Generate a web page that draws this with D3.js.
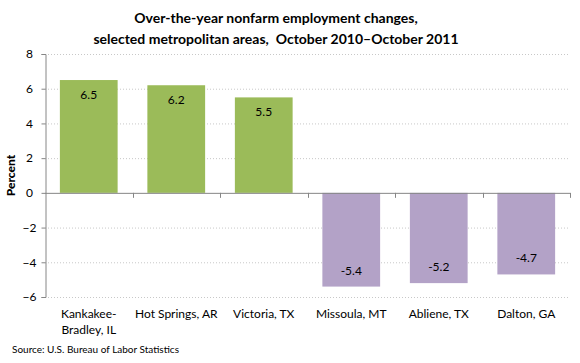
<!DOCTYPE html>
<html>
<head>
<meta charset="utf-8">
<script src="https://cdn.jsdelivr.net/npm/d3@7"></script>
<style>
  body { margin: 0; background: #fff; }
  text { font-family: Lato, "Open Sans", sans-serif; }
</style>
</head>
<body>
<div id="chart"></div>
<script>
const categories = [["Kankakee-", "Bradley, IL"], ["Hot Springs, AR"], ["Victoria, TX"], ["Missoula, MT"], ["Abliene, TX"], ["Dalton, GA"]];
const values = [6.5, 6.2, 5.5, -5.4, -5.2, -4.7];
const yTicks = [-6, -4, -2, 0, 2, 4, 6, 8];

const width = 580, height = 363;
const margin = { top: 54, right: 10, bottom: 66, left: 45 };

const svg = d3.select("#chart").append("svg")
  .attr("width", width)
  .attr("height", height);

const x = d3.scaleBand()
  .domain(d3.range(categories.length))
  .range([margin.left, width - margin.right])
  .paddingInner(0.34)
  .paddingOuter(0.17);

const y = d3.scaleLinear()
  .domain([-6, 8])
  .range([height - margin.bottom, margin.top]);

// dotted gridlines
svg.append("g")
  .selectAll("line")
  .data(yTicks.filter(d => d !== 0))
  .join("line")
  .attr("x1", margin.left)
  .attr("x2", width - margin.right)
  .attr("y1", d => y(d) + 0.5)
  .attr("y2", d => y(d) + 0.5)
  .attr("stroke", "#c8c8c8")
  .attr("stroke-dasharray", "1,2");

// y axis
const yAxis = svg.append("g")
  .attr("transform", `translate(${margin.left + 0.5},0)`)
  .call(d3.axisLeft(y).tickValues(yTicks).tickSize(4).tickFormat(d3.format("d")));
yAxis.select(".domain").attr("stroke", "#868686");
yAxis.selectAll(".tick line").attr("stroke", "#868686");
yAxis.selectAll(".tick text")
  .attr("x", -16)
  .attr("text-anchor", "middle")
  .attr("font-size", 12)
  .attr("fill", "#000")
  .style("font-family", "Lato, sans-serif");

// bars
svg.append("g")
  .selectAll("rect")
  .data(values)
  .join("rect")
  .attr("x", (d, i) => x(i))
  .attr("width", x.bandwidth())
  .attr("y", d => y(Math.max(0, d)))
  .attr("height", d => Math.abs(y(d) - y(0)))
  .attr("fill", d => d >= 0 ? "#9bbb59" : "#b3a2c7");

// value labels
svg.append("g")
  .selectAll("text")
  .data(values)
  .join("text")
  .attr("x", (d, i) => x(i) + x.bandwidth() / 2)
  .attr("y", d => d >= 0 ? y(d) + 19 : y(d) - 12)
  .attr("text-anchor", "middle")
  .attr("font-size", 12)
  .text(d => d3.format(".1f")(d).replace("−", "-"));

// zero line with category separators
const step = x.step();
svg.append("line")
  .attr("x1", margin.left)
  .attr("x2", width - margin.right)
  .attr("y1", y(0) + 0.5)
  .attr("y2", y(0) + 0.5)
  .attr("stroke", "#868686");
svg.append("g")
  .selectAll("line")
  .data(d3.range(1, categories.length + 1))
  .join("line")
  .attr("x1", i => Math.round(margin.left + i * step) + 0.5)
  .attr("x2", i => Math.round(margin.left + i * step) + 0.5)
  .attr("y1", y(0))
  .attr("y2", y(0) + 5)
  .attr("stroke", "#868686");

// category labels
const catLabels = svg.append("g")
  .selectAll("text")
  .data(categories)
  .join("text")
  .attr("x", (d, i) => x(i) + x.bandwidth() / 2)
  .attr("y", 318)
  .attr("text-anchor", "middle")
  .attr("font-size", 12);
catLabels.selectAll("tspan")
  .data(d => d)
  .join("tspan")
  .attr("x", function () { return this.parentNode.getAttribute("x"); })
  .attr("dy", (d, i) => i === 0 ? 0 : 16)
  .text(d => d);

// y axis title
svg.append("text")
  .attr("transform", `translate(15,${y(1)}) rotate(-90)`)
  .attr("text-anchor", "middle")
  .attr("font-size", 12)
  .attr("font-weight", 900)
  .text("Percent");

// chart title
svg.append("text")
  .attr("x", 276)
  .attr("y", 23)
  .attr("text-anchor", "middle")
  .attr("font-size", 14)
  .attr("font-weight", "bold")
  .text("Over-the-year nonfarm employment changes,");
svg.append("text")
  .attr("x", 276)
  .attr("y", 44)
  .attr("text-anchor", "middle")
  .attr("font-size", 14)
  .attr("font-weight", "bold")
  .attr("xml:space", "preserve")
  .style("white-space", "pre")
  .text("selected metropolitan areas,  October 2010\u2013October 2011");

// source
svg.append("text")
  .attr("x", 12)
  .attr("y", 353)
  .attr("font-size", 10)
  .text("Source: U.S. Bureau of Labor Statistics");
</script>
</body>
</html>
